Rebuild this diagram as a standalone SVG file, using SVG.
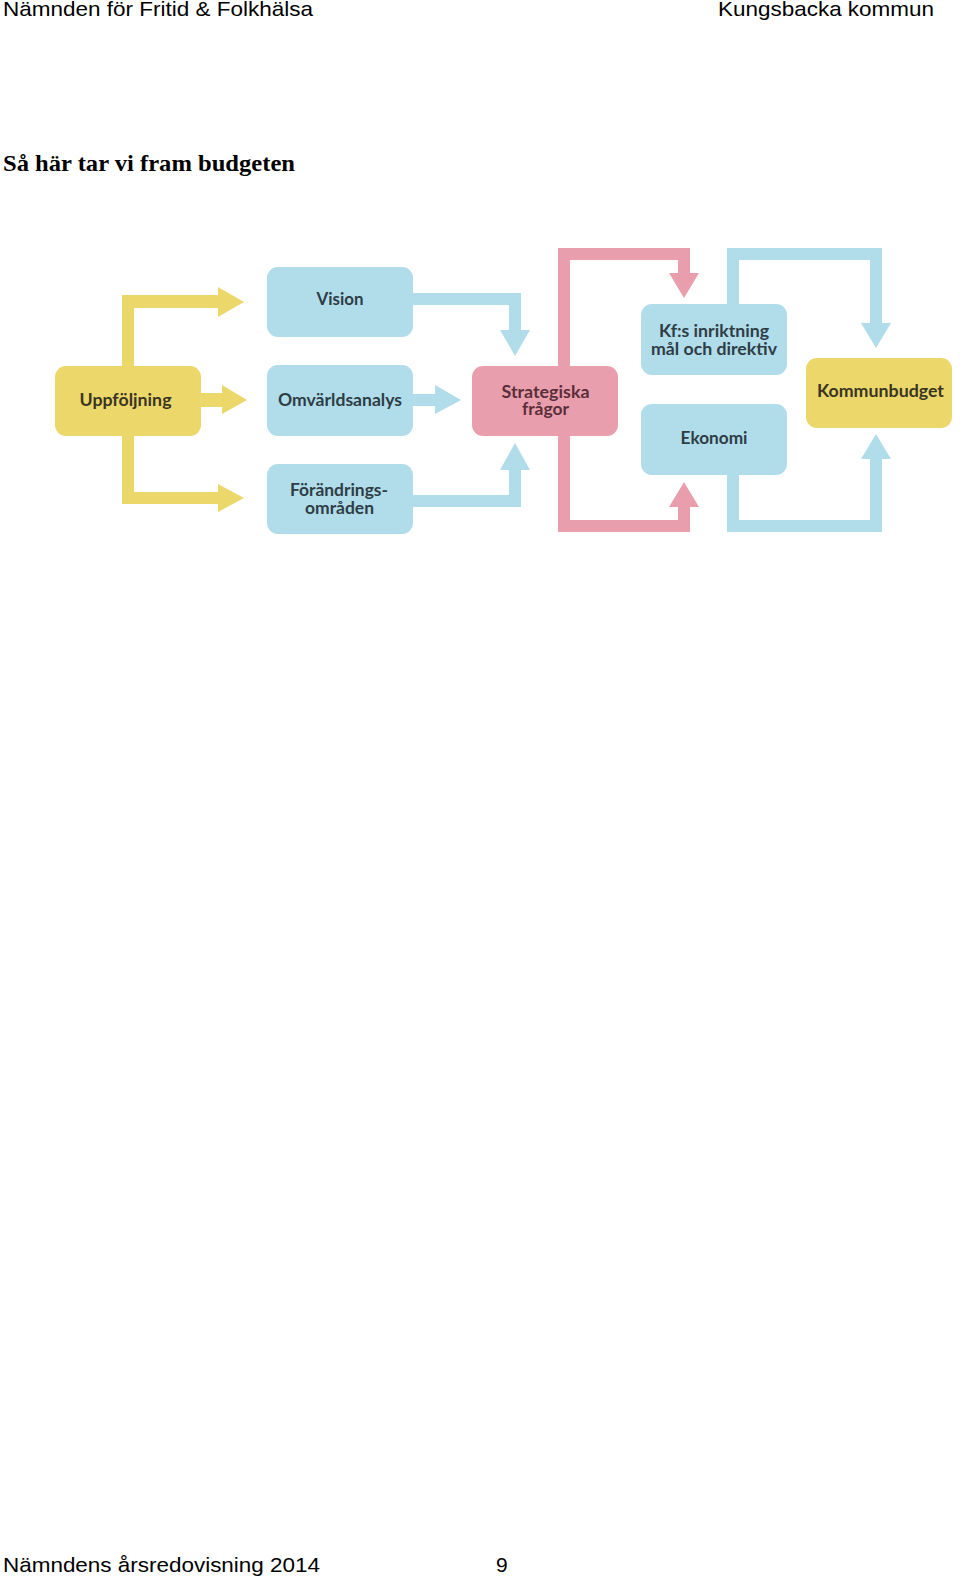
<svg xmlns="http://www.w3.org/2000/svg" width="960" height="1579" viewBox="0 0 960 1579">
<style>
.hdr{font-family:"Liberation Sans",Arial,sans-serif;font-size:21px;fill:#000}
.ttl{font-family:"Liberation Serif","Times New Roman",serif;font-size:23.5px;font-weight:bold;fill:#000}
.lbl{font-family:Lato,"Open Sans",sans-serif;font-size:16.5px;font-weight:700;text-anchor:middle}
.blue{fill:#B1DCEA}
.yel{fill:#ECD86A}
.pink{fill:#E99EAD}
.tb{fill:#2E3D45}
.ty{fill:#3A3522}
.tp{fill:#5A2E38}
</style>
<rect width="960" height="1579" fill="#fff"/>
<text class="hdr" x="3" y="16" textLength="310" lengthAdjust="spacingAndGlyphs">Nämnden för Fritid &amp; Folkhälsa</text>
<text class="hdr" x="718" y="16" textLength="216" lengthAdjust="spacingAndGlyphs">Kungsbacka kommun</text>
<text class="ttl" x="3" y="171" textLength="292" lengthAdjust="spacingAndGlyphs">Så här tar vi fram budgeten</text>
<g id="connectors">
<path class="yel" d="M122,366 V295 H218 V287 L244,302 L218,317 V308 H134 V366 Z"/>
<path class="yel" d="M122,436 V504 H218 V512 L244,498 L218,484 V492 H134 V436 Z"/>
<path class="yel" d="M200,393 H222 V385 L247,400 L222,414 V407 H200 Z"/>
<path class="blue" d="M412,293 H521 V330 H530 L515,356 L500,330 H509 V305 H412 Z"/>
<path class="blue" d="M412,394 H435 V385 L461,400 L435,414 V406 H412 Z"/>
<path class="blue" d="M412,495 H509 V470 H500 L515,443 L530,470 H521 V507 H412 Z"/>
<path class="pink" d="M558,367 V248 H690 V273 H699 L684,298 L669,273 H678 V260 H570 V367 Z"/>
<path class="pink" d="M558,435 V532 H690 V507 H699 L684,482 L669,507 H678 V520 H570 V435 Z"/>
<path class="blue" d="M727,306 V248 H882 V323 H891 L876,348 L861,323 H870 V260 H739 V306 Z"/>
<path class="blue" d="M727,474 V532 H882 V459 H891 L876,434 L861,459 H870 V520 H739 V474 Z"/>
</g>
<g id="uppfoljning"><rect class="yel" x="55" y="366" width="146" height="70" rx="11"/><text class="lbl ty" x="125.5" y="406" textLength="92" lengthAdjust="spacingAndGlyphs">Uppföljning</text></g>
<g id="vision"><rect class="blue" x="267" y="267" width="146" height="70" rx="11"/><text class="lbl tb" x="340" y="305" textLength="47" lengthAdjust="spacingAndGlyphs">Vision</text></g>
<g id="omvarldsanalys"><rect class="blue" x="267" y="365" width="146" height="71" rx="11"/><text class="lbl tb" x="340" y="406" textLength="124" lengthAdjust="spacingAndGlyphs">Omvärldsanalys</text></g>
<g id="forandringsomraden"><rect class="blue" x="267" y="464" width="146" height="70" rx="11"/><text class="lbl tb" x="339" y="496" textLength="98" lengthAdjust="spacingAndGlyphs">Förändrings-</text><text class="lbl tb" x="339.5" y="514" textLength="69" lengthAdjust="spacingAndGlyphs">områden</text></g>
<g id="strategiska"><rect class="pink" x="472" y="366" width="146" height="70" rx="11"/><text class="lbl tp" x="545.5" y="398" textLength="88" lengthAdjust="spacingAndGlyphs">Strategiska</text><text class="lbl tp" x="545.5" y="415" textLength="47" lengthAdjust="spacingAndGlyphs">frågor</text></g>
<g id="kfs"><rect class="blue" x="641" y="304" width="146" height="71" rx="11"/><text class="lbl tb" x="714" y="337" textLength="110" lengthAdjust="spacingAndGlyphs">Kf:s inriktning</text><text class="lbl tb" x="714" y="355" textLength="126" lengthAdjust="spacingAndGlyphs">mål och direktiv</text></g>
<g id="ekonomi"><rect class="blue" x="641" y="404" width="146" height="71" rx="11"/><text class="lbl tb" x="714" y="444" textLength="67" lengthAdjust="spacingAndGlyphs">Ekonomi</text></g>
<g id="kommunbudget"><rect class="yel" x="806" y="358" width="146" height="70" rx="11"/><text class="lbl ty" x="880.5" y="397" textLength="127" lengthAdjust="spacingAndGlyphs">Kommunbudget</text></g>
<text class="hdr" x="3" y="1572" textLength="317" lengthAdjust="spacingAndGlyphs">Nämndens årsredovisning 2014</text>
<text class="hdr" x="496" y="1572">9</text>
</svg>
